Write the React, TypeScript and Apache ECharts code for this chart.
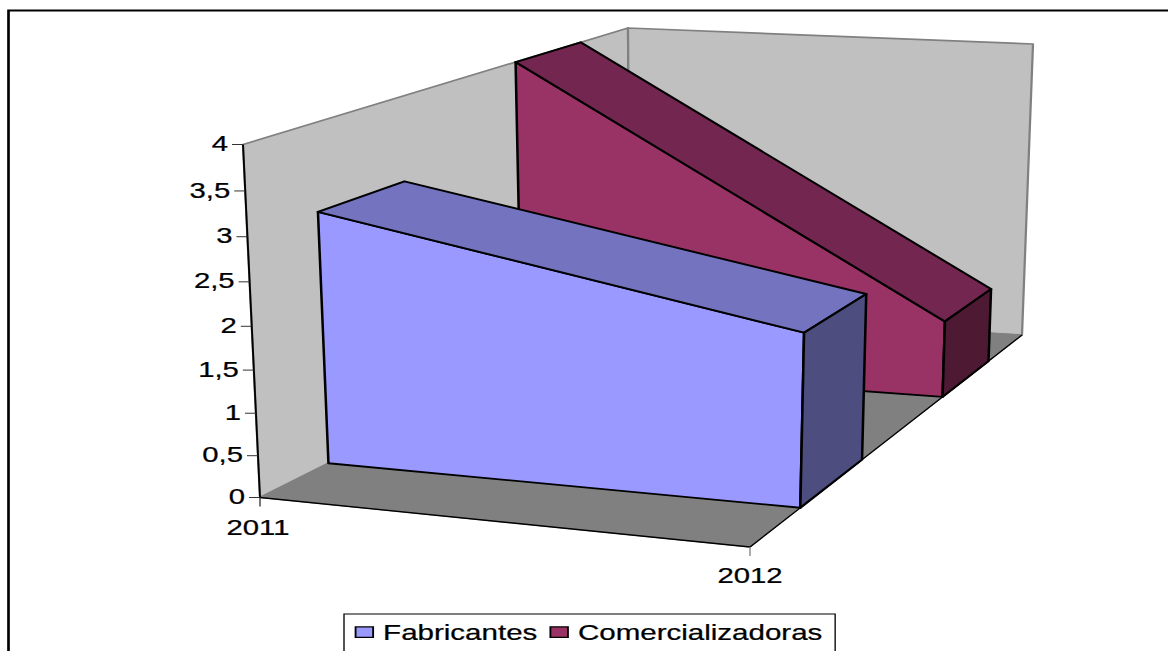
import React, { useEffect, useRef } from "react";
import * as echarts from "echarts";

// ---- data ----
const categories = ["2011", "2012"];
const fabricantes = [3, 2];
const comercializadoras = [4, 1];
const yTickValues = [0, 0.5, 1, 1.5, 2, 2.5, 3, 3.5, 4];
const yTickLabels = ["0", "0,5", "1", "1,5", "2", "2,5", "3", "3,5", "4"];

// ---- layout: the reference is horizontally stretched, so the chart is too ----
const INNER_W = 878;
const STRETCH = 1168 / INNER_W;
const H = 651;
const FONT = "Liberation Sans";

// corners of the 3D box in page pixels
const FLB = [260, 497.5];
const FLT = [243, 144.5];
const FRB = [750, 547];
const FRT = [757, 170];
const BLB = [630, 312];
const BLT = [628, 28];
const BRB = [1022, 335];
const BRT = [1033, 44];

// depth slots of the two series along the floor
const depthFab = [0.185, 0.412];
const depthCom = [0.708, 0.877];

// vertical foreshortening of the camera
const PERSPECTIVE = 0.06;

const GRID = { left: 100, top: 100, width: 500, height: 400 };
const MAX_V = 4;

const lerp = (a: number[], b: number[], t: number) => [a[0] + (b[0] - a[0]) * t, a[1] + (b[1] - a[1]) * t];

// perspective-like projection of (u, h, z), each 0..1, to the svg's own coordinates
function project(u: number, h: number, z: number) {
  const hp = h + PERSPECTIVE * h * (h - 1);
  const bL = lerp(FLB, BLB, z);
  const tL = lerp(FLT, BLT, z);
  const bR = lerp(FRB, BRB, z);
  const tR = lerp(FRT, BRT, z);
  const p = lerp(lerp(bL, tL, hp), lerp(bR, tR, hp), u);
  return [p[0] / STRETCH, p[1]];
}

// go through the (hidden) cartesian scales, then into the box
function scaled(api: any, cat: number, value: number, z: number) {
  const c = api.coord([cat, value]);
  const u = (c[0] - GRID.left) / GRID.width;
  const h = (GRID.top + GRID.height - c[1]) / GRID.height;
  return project(u, h, z);
}

const poly = (points: number[][], fill: string, stroke: string, lineWidth: number) => ({
  type: "polygon",
  shape: { points },
  style: { fill, stroke, lineWidth, lineJoin: "round" },
});
const seg = (a: number[], b: number[], stroke: string, lineWidth: number) => ({
  type: "line",
  shape: { x1: a[0], y1: a[1], x2: b[0], y2: b[1] },
  style: { stroke, lineWidth, fill: "none" },
});

function areaRenderer(depth: number[], colors: { front: string; top: string; side: string }) {
  return (_p: any, api: any) => {
    const v0 = api.value(1);
    const v1 = api.value(2);
    const [z0, z1] = depth;
    const fb0 = scaled(api, 0, 0, z0);
    const fb1 = scaled(api, 1, 0, z0);
    const ft0 = scaled(api, 0, v0, z0);
    const ft1 = scaled(api, 1, v1, z0);
    const bb1 = scaled(api, 1, 0, z1);
    const bt0 = scaled(api, 0, v0, z1);
    const bt1 = scaled(api, 1, v1, z1);
    return {
      type: "group",
      children: [
        poly([fb0, ft0, ft1, fb1], colors.front, "#000", 1.9),
        poly([ft0, bt0, bt1, ft1], colors.top, "#000", 1.9),
        poly([fb1, ft1, bt1, bb1], colors.side, "#000", 1.9),
      ],
    };
  };
}

function wallsRenderer(_p: any, api: any) {
  const flb = scaled(api, 0, 0, 0);
  const flt = scaled(api, 0, MAX_V, 0);
  const blb = scaled(api, 0, 0, 1);
  const blt = scaled(api, 0, MAX_V, 1);
  const frb = scaled(api, 1, 0, 0);
  const brb = scaled(api, 1, 0, 1);
  const brt = scaled(api, 1, MAX_V, 1);
  return {
    type: "group",
    children: [
      poly([flb, flt, blt, blb], "#C0C0C0", "#808080", 1.7),
      poly([blb, blt, brt, brb], "#C0C0C0", "#808080", 1.7),
      poly([flb, blb, brb, frb], "#808080", "#808080", 1),
      seg(flb, flt, "#000", 1.4),
      seg(flb, frb, "#000", 1.4),
      seg(frb, brb, "#000", 1.1),
    ],
  };
}

const labelInk = { stroke: "#000", lineWidth: 0.25 };

function yAxisRenderer(params: any, api: any) {
  const p = scaled(api, 0, api.value(1), 0);
  return {
    type: "group",
    children: [
      seg(p, [p[0] - 11 / STRETCH, p[1]], "#333", 1),
      {
        type: "text",
        style: {
          text: yTickLabels[params.dataIndex],
          x: p[0] - 15 / STRETCH,
          y: p[1] - 1,
          align: "right",
          verticalAlign: "middle",
          fontFamily: FONT,
          fontSize: 22,
          fill: "#000",
          ...labelInk,
        },
      },
    ],
  };
}

function xAxisRenderer(params: any, api: any) {
  const p = scaled(api, api.value(0), 0, 0);
  return {
    type: "group",
    children: [
      seg(p, [p[0], p[1] + 9], params.dataIndex === 0 ? "#333" : "#808080", 1),
      {
        type: "text",
        style: {
          text: categories[params.dataIndex],
          x: p[0] - (params.dataIndex === 0 ? 2 : 0) / STRETCH,
          y: p[1] + (params.dataIndex === 0 ? 30 : 28),
          align: "center",
          verticalAlign: "middle",
          fontFamily: FONT,
          fontSize: 22,
          fill: "#000",
          ...labelInk,
        },
      },
    ],
  };
}

export default function App() {
  const ref = useRef<HTMLDivElement>(null);
  useEffect(() => {
    if (!ref.current) return;
    const chart = echarts.init(ref.current, undefined, { renderer: "svg" });
    const base = { type: "custom", coordinateSystem: "cartesian2d", clip: false, silent: true };
    chart.setOption({
      animation: false,
      backgroundColor: "#fff",
      grid: { ...GRID },
      xAxis: { type: "value", min: 0, max: 1, show: false },
      yAxis: { type: "value", min: 0, max: MAX_V, interval: 0.5, show: false },
      legend: {
        data: ["Fabricantes", "Comercializadoras"],
        left: 344 / STRETCH,
        top: 614,
        orient: "horizontal",
        icon: "rect",
        itemWidth: 13.2,
        itemHeight: 10.5,
        itemGap: 9,
        padding: [7, 9.5, 16, 8],
        borderColor: "#000",
        borderWidth: 1,
        backgroundColor: "#fff",
        itemStyle: { borderColor: "#000", borderWidth: 1.4 },
        textStyle: {
          fontFamily: FONT,
          fontSize: 22.2,
          color: "#000",
          padding: [0, 0, 0, 2.5],
          textBorderColor: "#000",
          textBorderWidth: 0.25,
        },
        selectedMode: false,
      },
      graphic: [
        {
          type: "polyline",
          shape: { points: [[8.5 / STRETCH, H + 5], [8.5 / STRETCH, 10.5], [INNER_W + 5, 10.5]] },
          style: { stroke: "#000", lineWidth: 2, fill: "none" },
          z: 20,
        },
      ],
      series: [
        { ...base, name: "Paredes", renderItem: wallsRenderer, data: [[0, 0]], z: 1 },
        { ...base, name: "Eixo Y", renderItem: yAxisRenderer, data: yTickValues.map((v) => [0, v]), z: 2 },
        { ...base, name: "Eixo X", renderItem: xAxisRenderer, data: categories.map((_c, i) => [i, 0]), z: 2 },
        {
          ...base,
          name: "Comercializadoras",
          itemStyle: { color: "#993366" },
          renderItem: areaRenderer(depthCom, { front: "#993366", top: "#732650", side: "#4D1933" }),
          data: [[0, comercializadoras[0], comercializadoras[1]]],
          z: 3,
        },
        {
          ...base,
          name: "Fabricantes",
          itemStyle: { color: "#9999FF" },
          renderItem: areaRenderer(depthFab, { front: "#9999FF", top: "#7373BF", side: "#4D4D80" }),
          data: [[0, fabricantes[0], fabricantes[1]]],
          z: 4,
        },
      ],
    });
    return () => chart.dispose();
  }, []);
  return (
    <div
      ref={ref}
      style={{
        position: "fixed",
        left: 0,
        top: 0,
        width: INNER_W,
        height: H,
        transform: `scaleX(${STRETCH})`,
        transformOrigin: "0 0",
      }}
    />
  );
}
